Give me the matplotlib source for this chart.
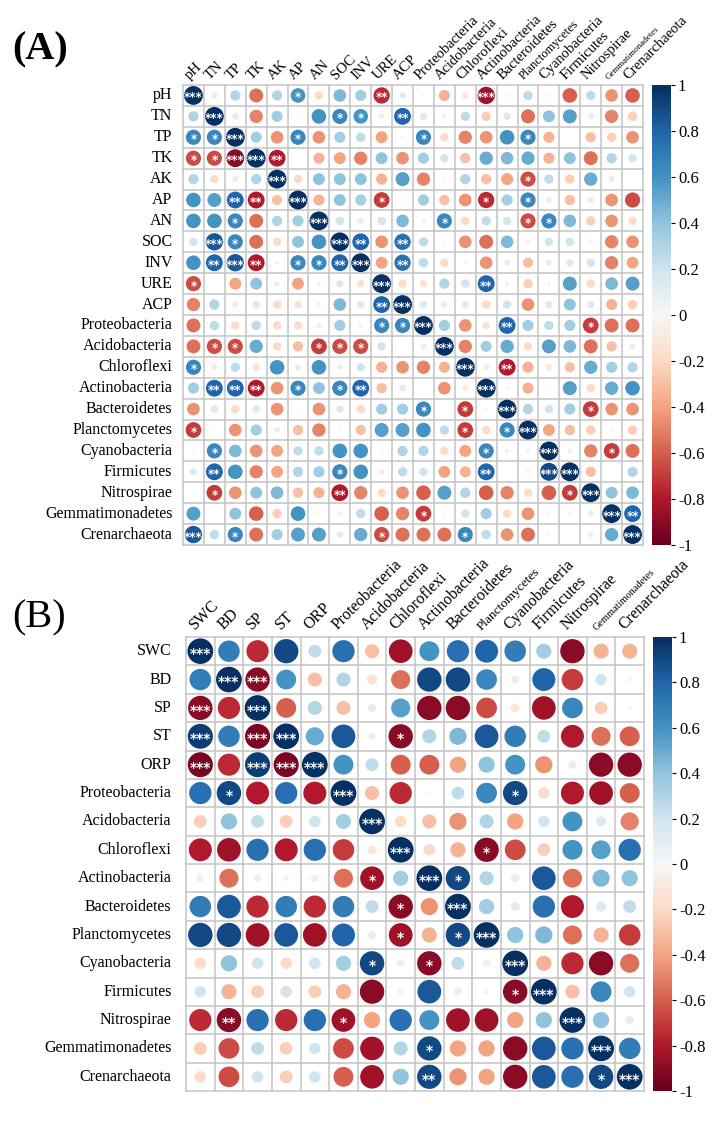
import numpy as np
import matplotlib
matplotlib.use("Agg")
import matplotlib.pyplot as plt
from matplotlib.patches import Ellipse
from matplotlib.colors import Normalize

# ---------------- Panel A data ----------------
labels_A = ["pH", "TN", "TP", "TK", "AK", "AP", "AN", "SOC", "INV", "URE", "ACP",
            "Proteobacteria", "Acidobacteria", "Chloroflexi", "Actinobacteria",
            "Bacteroidetes", "Planctomycetes", "Cyanobacteria", "Firmicutes",
            "Nitrospirae", "Gemmatimonadetes", "Crenarchaeota"]

A_pH   = [1, 0.1, 0.3, -0.55, 0.3, 0.6, -0.2, 0.45, 0.35, -0.75, 0.12, 0.03, -0.35, -0.12, -0.85, 0.03, 0.25, 0.03, -0.6, 0.25, -0.45, -0.6]
A_TN   = [0.3, 1, -0.12, -0.5, 0.35, 0.02, 0.6, 0.65, 0.6, -0.08, 0.8, 0.15, 0.05, 0.25, -0.25, 0.15, -0.55, 0.4, 0.55, 0.1, -0.5, -0.25]
A_TP   = [0.65, 0.65, 1, 0.35, -0.45, 0.65, -0.45, 0.35, 0.25, -0.4, 0.03, 0.65, -0.2, -0.5, -0.45, 0.6, 0.65, -0.35, 0.0, -0.3, -0.25, -0.45]
A_TK   = [-0.65, -0.65, -0.9, 1, -0.8, 0.0, -0.35, -0.4, -0.5, 0.4, -0.45, 0.35, 0.2, -0.3, 0.5, 0.45, 0.5, -0.35, 0.4, -0.55, 0.3, 0.2]
A_AK   = [0.3, -0.2, -0.1, 0.3, 1, -0.2, 0.4, 0.4, 0.4, -0.35, 0.55, -0.5, 0.02, 0.3, -0.3, -0.4, -0.65, 0.25, -0.25, 0.5, -0.1, 0.0]
A_AP   = [0.6, 0.55, 0.8, -0.8, -0.3, 1, -0.35, 0.4, 0.35, -0.7, 0.02, 0.35, -0.3, -0.45, -0.75, 0.35, 0.65, -0.1, -0.3, -0.1, -0.45, -0.65]
A_AN   = [0.6, 0.6, 0.65, -0.55, 0.3, 0.35, 1, 0.2, 0.1, 0.2, 0.45, 0.05, 0.65, -0.2, 0.25, 0.2, -0.65, 0.65, 0.45, -0.25, -0.45, -0.2]
A_SOC  = [0.2, 0.85, 0.65, -0.55, -0.2, 0.4, 0.6, 1, 0.8, -0.45, 0.75, 0.25, 0.02, -0.45, -0.55, 0.45, -0.05, 0.2, 0.2, 0.03, -0.5, -0.45]
A_INV  = [0.6, 0.8, 0.85, -0.8, -0.05, 0.65, 0.65, 0.8, 1, -0.4, 0.75, 0.25, -0.2, 0.03, -0.45, 0.1, -0.3, 0.1, 0.15, 0.2, -0.5, -0.4]
A_URE  = [-0.65, 0.0, -0.4, 0.4, -0.08, -0.4, -0.05, 0.15, -0.15, 1, -0.2, -0.15, 0.3, 0.2, 0.8, -0.05, -0.25, 0.03, 0.55, -0.2, 0.45, 0.55]
A_ACP  = [-0.5, 0.3, -0.1, 0.15, -0.2, -0.15, 0.05, 0.45, 0.15, 0.8, 1, 0.15, 0.1, -0.15, -0.2, 0.2, -0.45, 0.15, 0.4, 0.15, -0.35, -0.25]
A_Prot = [-0.55, 0.25, -0.2, 0.25, -0.2, -0.2, -0.08, 0.35, -0.05, 0.65, 0.65, 1, 0.35, -0.45, -0.15, 0.8, 0.35, 0.25, 0.35, -0.7, -0.55, -0.55]
A_Acid = [-0.55, -0.65, -0.65, 0.5, -0.2, -0.3, -0.7, -0.65, -0.65, 0.2, 0.0, -0.1, 1, -0.5, 0.35, 0.5, -0.2, 0.55, 0.45, -0.55, -0.3, -0.1]
A_Chlo = [0.65, -0.1, 0.25, -0.15, 0.6, 0.1, 0.6, -0.08, 0.2, -0.35, -0.45, -0.5, -0.35, 1, 0.1, -0.8, -0.35, -0.12, -0.3, 0.5, 0.35, 0.3]
A_Acti = [0.35, 0.8, 0.8, -0.8, -0.45, 0.65, 0.4, 0.65, 0.8, -0.3, 0.12, 0.0, -0.45, -0.1, 1, 0.03, -0.35, 0.02, 0.55, -0.2, 0.5, 0.6]
A_Bact = [-0.45, 0.15, -0.2, 0.15, -0.45, 0.02, -0.45, 0.15, -0.2, 0.35, 0.35, 0.65, 0.0, -0.7, 0.02, 1, 0.3, 0.2, 0.35, -0.7, -0.45, -0.45]
A_Plan = [-0.7, 0.02, -0.45, 0.35, -0.1, -0.3, -0.5, 0.02, -0.3, 0.55, 0.55, 0.6, 0.25, -0.7, -0.2, 0.65, 1, -0.4, -0.3, -0.25, 0.03, -0.25]
A_Cyan = [0.02, 0.65, 0.45, -0.45, -0.4, 0.25, 0.25, 0.6, 0.6, 0.02, 0.3, 0.3, -0.2, -0.4, 0.65, 0.05, 0.05, 1, 0.05, -0.5, -0.7, -0.55]
A_Firm = [0.15, 0.8, 0.6, -0.5, -0.4, 0.3, 0.35, 0.65, 0.6, -0.08, 0.25, 0.2, -0.4, -0.35, 0.8, 0.0, -0.05, 0.9, 1, -0.3, 0.0, 0.3]
A_Nitr = [0.0, -0.7, -0.45, 0.4, 0.45, -0.3, -0.35, -0.8, -0.5, -0.2, -0.45, -0.6, 0.55, 0.3, -0.6, -0.5, -0.2, -0.6, -0.7, 1, 0.4, 0.45]
A_Gemm = [0.55, 0.0, 0.4, -0.6, -0.25, 0.6, 0.02, -0.05, 0.25, -0.6, -0.5, -0.7, 0.02, 0.2, 0.35, -0.2, -0.45, 0.03, 0.03, 0.1, 1, 0.8]
A_Cren = [0.85, 0.25, 0.65, -0.55, 0.35, 0.55, 0.55, 0.12, 0.5, -0.65, -0.55, -0.55, -0.55, 0.65, 0.25, -0.45, -0.55, 0.03, 0.0, 0.08, 0.5, 1]

# (row, column, number of stars)
stars_A = [(0, 0, 3), (0, 5, 1), (0, 9, 2), (0, 14, 3),
           (1, 1, 3), (1, 7, 1), (1, 8, 1), (1, 10, 2),
           (2, 0, 1), (2, 1, 1), (2, 2, 3), (2, 5, 1), (2, 11, 1), (2, 16, 1),
           (3, 0, 1), (3, 1, 1), (3, 2, 3), (3, 3, 3), (3, 4, 2),
           (4, 4, 3), (4, 16, 1),
           (5, 2, 2), (5, 3, 2), (5, 5, 3), (5, 9, 1), (5, 14, 1), (5, 16, 1),
           (6, 2, 1), (6, 6, 3), (6, 12, 1), (6, 16, 1), (6, 17, 1),
           (7, 1, 3), (7, 2, 1), (7, 7, 3), (7, 8, 2), (7, 10, 2),
           (8, 1, 2), (8, 2, 3), (8, 3, 2), (8, 5, 1), (8, 6, 1), (8, 7, 2), (8, 8, 3), (8, 10, 2),
           (9, 0, 1), (9, 9, 3), (9, 14, 2),
           (10, 9, 2), (10, 10, 3),
           (11, 9, 1), (11, 10, 1), (11, 11, 3), (11, 15, 2), (11, 19, 1),
           (12, 1, 1), (12, 2, 1), (12, 6, 1), (12, 7, 1), (12, 8, 1), (12, 12, 3),
           (13, 0, 1), (13, 13, 3), (13, 15, 2),
           (14, 1, 2), (14, 2, 2), (14, 3, 2), (14, 5, 1), (14, 7, 1), (14, 8, 2), (14, 14, 3),
           (15, 11, 1), (15, 13, 1), (15, 15, 3), (15, 19, 1),
           (16, 0, 1), (16, 13, 1), (16, 15, 1), (16, 16, 3),
           (17, 1, 1), (17, 14, 1), (17, 17, 3), (17, 20, 1),
           (18, 1, 2), (18, 7, 1), (18, 14, 2), (18, 17, 3), (18, 18, 3),
           (19, 1, 1), (19, 7, 2), (19, 18, 1), (19, 19, 3),
           (20, 11, 1), (20, 20, 3), (20, 21, 2),
           (21, 0, 3), (21, 2, 1), (21, 9, 1), (21, 13, 1), (21, 21, 3)]

# ---------------- Panel B data ----------------
labels_B = ["SWC", "BD", "SP", "ST", "ORP", "Proteobacteria", "Acidobacteria",
            "Chloroflexi", "Actinobacteria", "Bacteroidetes", "Planctomycetes",
            "Cyanobacteria", "Firmicutes", "Nitrospirae", "Gemmatimonadetes",
            "Crenarchaeota"]

B_SWC  = [1, 0.7, -0.75, 0.9, 0.25, 0.75, -0.3, -0.85, 0.6, 0.75, 0.8, 0.7, 0.35, -0.9, -0.35, -0.35]
B_BD   = [0.7, 1, -0.9, 0.6, -0.3, 0.3, -0.15, -0.55, 0.9, 0.9, 0.65, 0.1, 0.8, -0.7, 0.2, 0.03]
B_SP   = [-0.9, -0.75, 1, -0.6, 0.3, -0.3, 0.1, 0.55, -0.9, -0.9, -0.65, -0.12, -0.85, 0.65, -0.25, 0.02]
B_ST   = [0.95, 0.7, -0.95, 1, 0.5, 0.85, -0.08, -0.9, 0.3, 0.45, 0.85, 0.7, 0.25, -0.8, -0.55, -0.6]
B_ORP  = [-0.95, -0.75, 0.95, -0.95, 1, 0.6, 0.25, -0.6, -0.6, -0.4, 0.4, 0.6, -0.45, -0.1, -0.9, -0.9]
B_Prot = [0.75, 0.9, -0.8, 0.75, -0.8, 1, -0.3, -0.75, 0.02, 0.25, 0.65, 0.9, -0.2, -0.8, -0.85, -0.6]
B_Acid = [-0.25, 0.4, 0.25, -0.25, 0.2, 0.35, 1, -0.2, -0.3, -0.45, 0.3, -0.4, 0.2, 0.6, 0.15, -0.5]
B_Chlo = [-0.8, -0.85, 0.75, -0.8, 0.75, -0.7, -0.12, 1, -0.2, -0.35, -0.9, -0.65, -0.25, 0.6, 0.55, 0.75]
B_Acti = [-0.08, -0.55, 0.08, -0.05, 0.08, -0.55, -0.85, 0.35, 1, 0.9, 0.3, -0.1, 0.85, -0.55, 0.45, 0.4]
B_Bact = [0.7, 0.85, -0.75, 0.7, -0.75, 0.7, 0.25, -0.9, -0.45, 1, 0.35, 0.12, 0.75, -0.8, 0.15, 0.25]
B_Plan = [0.9, 0.9, -0.85, 0.85, -0.85, 0.8, 0.1, -0.85, -0.35, 0.9, 1, 0.4, 0.45, -0.55, -0.35, -0.7]
B_Cyan = [-0.2, 0.4, 0.2, -0.2, 0.2, 0.35, 0.9, -0.08, -0.9, 0.25, 0.08, 1, -0.35, -0.75, -0.9, -0.55]
B_Firm = [0.2, -0.35, -0.25, 0.2, -0.25, -0.35, -0.9, -0.05, 0.85, -0.08, 0.03, -0.9, 1, -0.3, 0.65, 0.2]
B_Nitr = [-0.75, -0.9, 0.75, -0.75, 0.75, -0.85, -0.4, 0.75, 0.6, -0.85, -0.85, -0.4, 0.4, 1, 0.4, 0.1]
B_Gemm = [-0.25, -0.65, 0.25, -0.25, 0.2, -0.65, -0.85, 0.3, 0.9, -0.4, -0.4, -0.9, 0.85, 0.75, 1, 0.7]
B_Cren = [-0.2, -0.65, 0.2, -0.25, 0.2, -0.6, -0.85, 0.4, 0.9, -0.45, -0.4, -0.9, 0.85, 0.75, 0.9, 1]

stars_B = [(0, 0, 3),
           (1, 1, 3), (1, 2, 3),
           (2, 0, 3), (2, 2, 3),
           (3, 0, 3), (3, 2, 3), (3, 3, 3), (3, 7, 1),
           (4, 0, 3), (4, 2, 3), (4, 3, 3), (4, 4, 3),
           (5, 1, 1), (5, 5, 3), (5, 11, 1),
           (6, 6, 3),
           (7, 7, 3), (7, 10, 1),
           (8, 6, 1), (8, 8, 3), (8, 9, 1),
           (9, 7, 1), (9, 9, 3),
           (10, 7, 1), (10, 9, 1), (10, 10, 3),
           (11, 6, 1), (11, 8, 1), (11, 11, 3),
           (12, 11, 1), (12, 12, 3),
           (13, 1, 2), (13, 5, 1), (13, 13, 3),
           (14, 8, 1), (14, 14, 3),
           (15, 8, 2), (15, 14, 1), (15, 15, 3)]

cbar_ticks = [-1, -0.8, -0.6, -0.4, -0.2, 0, 0.2, 0.4, 0.6, 0.8, 1]

corr_A = np.array([A_pH, A_TN, A_TP, A_TK, A_AK, A_AP, A_AN, A_SOC, A_INV, A_URE, A_ACP,
                   A_Prot, A_Acid, A_Chlo, A_Acti, A_Bact, A_Plan, A_Cyan, A_Firm,
                   A_Nitr, A_Gemm, A_Cren])
corr_B = np.array([B_SWC, B_BD, B_SP, B_ST, B_ORP, B_Prot, B_Acid, B_Chlo, B_Acti,
                   B_Bact, B_Plan, B_Cyan, B_Firm, B_Nitr, B_Gemm, B_Cren])

SERIF = ["Liberation Serif", "DejaVu Serif"]
cmap = plt.get_cmap("RdBu")
norm = Normalize(-1, 1)
GRID = "#c4c4c4"

W, H = 728, 1126
fig = plt.figure(figsize=(W / 100, H / 100), dpi=100)


def fax(l, t, r, b):
    return fig.add_axes([l / W, 1 - b / H, (r - l) / W, (b - t) / H])


def draw_panel(ax, corr, stars, labels, row_fs, col_fs, special_fs, star_fs, star_dy):
    n = len(labels)
    ax.set_xlim(0, n)
    ax.set_ylim(n, 0)
    ax.set_axis_off()
    for k in range(n + 1):
        ax.plot([k, k], [0, n], color=GRID, lw=1.1, zorder=1, clip_on=False)
        ax.plot([0, n], [k, k], color=GRID, lw=1.1, zorder=1, clip_on=False)
    for i in range(n):
        for j in range(n):
            r = corr[i, j]
            d = 0.9 * np.sqrt(abs(r))
            if d <= 0:
                continue
            ax.add_patch(Ellipse((j + 0.5, i + 0.5), d, d, facecolor=cmap(norm(r)),
                                 edgecolor="none", zorder=2))
    for (i, j, k) in stars:
        ax.text(j + 0.5, i + 0.5 + star_dy, "*" * k, color="white", ha="center",
                va="center", fontsize=star_fs, fontweight="bold",
                family="DejaVu Sans", zorder=3)
    for i, lab in enumerate(labels):
        ax.text(-0.5, i + 0.5, lab, ha="right", va="center", fontsize=row_fs,
                family=SERIF)
    for j, lab in enumerate(labels):
        fs = special_fs.get(lab, col_fs)
        ax.text(j + 0.4, -0.15, lab, ha="left", va="bottom", rotation=45,
                rotation_mode="anchor", fontsize=fs, family=SERIF)


def draw_cbar(cax):
    grad = np.linspace(1, -1, 400)[:, None]
    cax.imshow(grad, aspect="auto", cmap=cmap, norm=norm, extent=[0, 1, -1, 1])
    cax.set_xlim(0, 1)
    cax.set_ylim(-1, 1)
    cax.set_xticks([])
    cax.yaxis.tick_right()
    cax.set_yticks(cbar_ticks)
    cax.set_yticklabels(["%g" % t for t in cbar_ticks], family=SERIF, fontsize=12)
    cax.tick_params(axis="y", length=3, width=0.8, pad=2)
    for s in cax.spines.values():
        s.set_visible(False)


axA = fax(183, 85, 643, 545)
draw_panel(axA, corr_A, stars_A, labels_A, 11.5, 10.5,
           {"Planctomycetes": 9, "Gemmatimonadetes": 6.5}, 8.5, 0.12)
caxA = fax(652, 85, 671, 545)
draw_cbar(caxA)

axB = fax(186, 637, 644, 1091)
draw_panel(axB, corr_B, stars_B, labels_B, 11.5, 11.5,
           {"Planctomycetes": 9.5, "Gemmatimonadetes": 7.5}, 10, 0.1)
caxB = fax(653, 637, 672, 1091)
draw_cbar(caxB)

fig.text(12 / W, 1 - 50 / H, "(A)", fontsize=29, fontweight="bold", family=SERIF,
         va="center", ha="left")
fig.text(12 / W, 1 - 618 / H, "(B)", fontsize=29, family=SERIF, va="center", ha="left")

fig.savefig("out.png", dpi=100)
